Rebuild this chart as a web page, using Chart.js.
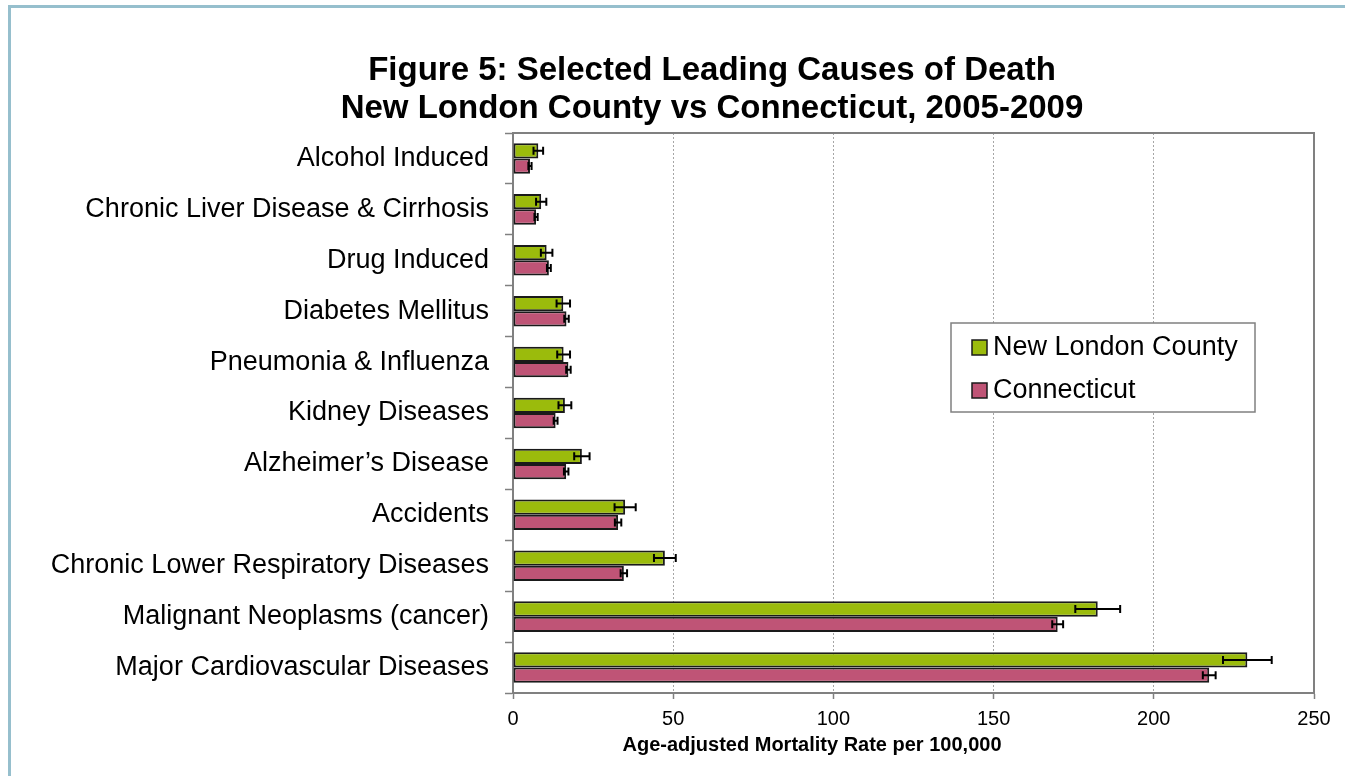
<!DOCTYPE html>
<html><head><meta charset="utf-8">
<script src="https://cdn.jsdelivr.net/npm/chart.js@4.4.0/dist/chart.umd.min.js"></script>
<style>
html,body{margin:0;padding:0;background:#fff;overflow:hidden;}
#frame{position:absolute;left:8px;top:5px;width:1400px;height:900px;border-left:3px solid #96bfcd;border-top:3px solid #96bfcd;box-sizing:border-box;}
#wrap{position:absolute;left:0;top:0;width:1345px;height:776px;}
</style></head><body>
<div id="frame"></div>
<div id="wrap"><canvas id="c" width="1345" height="776"></canvas></div>
<script>
const categories = ["Alcohol Induced", "Chronic Liver Disease & Cirrhosis", "Drug Induced", "Diabetes Mellitus", "Pneumonia & Influenza", "Kidney Diseases", "Alzheimer\u2019s Disease", "Accidents", "Chronic Lower Respiratory Diseases", "Malignant Neoplasms (cancer)", "Major Cardiovascular Diseases"];
const newLondonRates = [7.9, 8.8, 10.5, 15.7, 15.8, 16.2, 21.5, 35.0, 47.4, 182.5, 229.2];
const newLondonErrors = [1.5, 1.6, 1.8, 2.1, 2.0, 2.0, 2.4, 3.3, 3.4, 7.0, 7.6];
const connecticutRates = [5.3, 7.2, 11.2, 16.7, 17.3, 13.3, 16.6, 32.8, 34.6, 170.0, 217.3];
const connecticutErrors = [0.5, 0.5, 0.6, 0.7, 0.7, 0.6, 0.7, 1.0, 1.0, 1.7, 2.0];
const xTickValues = [0, 50, 100, 150, 200, 250];
const seriesNames = ["New London County", "Connecticut"];
const titleLines = ["Figure 5: Selected Leading Causes of Death", "New London County vs Connecticut, 2005-2009"];
const xAxisTitle = "Age-adjusted Mortality Rate per 100,000";

const FONT = '"Liberation Sans", Arial, Helvetica, sans-serif';
const GREEN = '#9bbb0c';
const PINK = '#bf5476';

const errorBars = {
  id: 'errorBars',
  afterDatasetsDraw(chart) {
    const ctx = chart.ctx, xs = chart.scales.x;
    chart.data.datasets.forEach((ds, di) => {
      const meta = chart.getDatasetMeta(di);
      meta.data.forEach((bar, i) => {
        const v = ds.data[i], e = ds.errors[i];
        const x1 = xs.getPixelForValue(v - e), x2 = xs.getPixelForValue(v + e), y = bar.y;
        ctx.save();
        ctx.strokeStyle = '#000'; ctx.lineWidth = 2;
        ctx.beginPath();
        ctx.moveTo(x1, y); ctx.lineTo(x2, y);
        ctx.moveTo(x1, y - 4); ctx.lineTo(x1, y + 4);
        ctx.moveTo(x2, y - 4); ctx.lineTo(x2, y + 4);
        ctx.stroke();
        ctx.restore();
      });
    });
  }
};

const decor = {
  id: 'decor',
  afterDraw(chart) {
    const ctx = chart.ctx, a = chart.chartArea;
    ctx.save();
    ctx.strokeStyle = '#808080'; ctx.lineWidth = 2;
    ctx.beginPath();
    ctx.moveTo(a.left, a.top); ctx.lineTo(a.right, a.top); ctx.lineTo(a.right, a.bottom);
    ctx.stroke();
    ctx.fillStyle = '#000';
    ctx.font = 'bold 33px ' + FONT;
    ctx.textAlign = 'center'; ctx.textBaseline = 'alphabetic';
    ctx.fillText(titleLines[0], 712, 80);
    ctx.fillText(titleLines[1], 712, 118);
    ctx.font = 'bold 20px ' + FONT;
    ctx.textBaseline = 'middle';
    ctx.fillText(xAxisTitle, 812, 745);
    const lx = 951, ly = 323, lw = 304, lh = 89;
    ctx.fillStyle = '#fff';
    ctx.fillRect(lx, ly, lw, lh);
    ctx.strokeStyle = '#808080'; ctx.lineWidth = 1.5;
    ctx.strokeRect(lx, ly, lw, lh);
    const ys = [347, 390];
    chart.data.datasets.forEach((ds, i) => {
      ctx.fillStyle = ds.backgroundColor;
      ctx.fillRect(972, ys[i] - 7, 15, 15);
      ctx.strokeStyle = '#1a1a1a'; ctx.lineWidth = 1.5;
      ctx.strokeRect(972, ys[i] - 7, 15, 15);
      ctx.fillStyle = '#000';
      ctx.font = '27px ' + FONT;
      ctx.textAlign = 'left'; ctx.textBaseline = 'middle';
      ctx.fillText(ds.label, 993, ys[i] + 1);
    });
    ctx.restore();
  }
};

new Chart(document.getElementById('c'), {
  type: 'bar',
  data: {
    labels: categories,
    datasets: [
      { label: seriesNames[0], data: newLondonRates, errors: newLondonErrors, backgroundColor: GREEN, borderColor: '#1a1a1a', borderWidth: 2, borderSkipped: false, categoryPercentage: 0.6, barPercentage: 1.0 },
      { label: seriesNames[1], data: connecticutRates, errors: connecticutErrors, backgroundColor: PINK, borderColor: '#1a1a1a', borderWidth: 2, borderSkipped: false, categoryPercentage: 0.6, barPercentage: 1.0 }
    ]
  },
  options: {
    indexAxis: 'y',
    responsive: false,
    animation: false,
    devicePixelRatio: 1,
    layout: { padding: { top: 133, right: 31, left: 0, bottom: 0 } },
    plugins: { legend: { display: false }, title: { display: false }, tooltip: { enabled: false } },
    scales: {
      x: {
        type: 'linear', min: 0, max: 250,
        afterBuildTicks: s => { s.ticks = xTickValues.map(v => ({ value: v })); },
        afterFit: s => { s.height = 83; },
        ticks: { font: { family: FONT, size: 20 }, color: '#000', padding: 8 },
        grid: {
          color: c => (c.tick && c.tick.value === 250) ? 'rgba(0,0,0,0)' : '#a6a6a6',
          lineWidth: 1, tickColor: '#808080', tickLength: 6, tickWidth: 1.5
        },
        border: { color: '#808080', width: 2, dash: [2, 2] }
      },
      y: {
        type: 'category', offset: true,
        afterFit: s => { s.width = 513; },
        ticks: { font: { family: FONT, size: 27 }, color: '#000', padding: 16 },
        grid: { offset: true, drawOnChartArea: false, tickLength: 8, tickColor: '#808080', tickWidth: 1.5 },
        border: { color: '#808080', width: 2 }
      }
    }
  },
  plugins: [errorBars, decor]
});
</script>
</body></html>
